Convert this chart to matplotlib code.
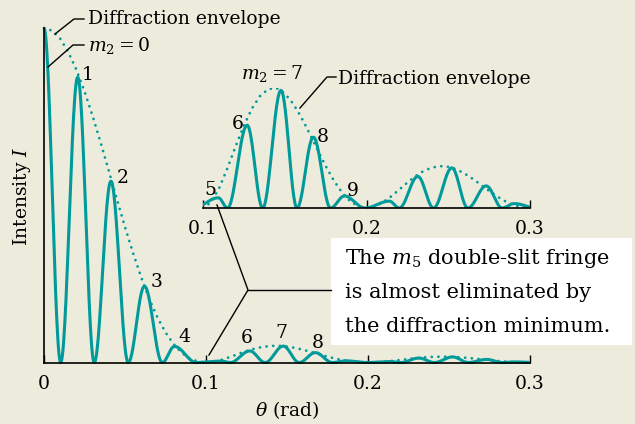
import numpy as np
import matplotlib
matplotlib.use("Agg")
import matplotlib.pyplot as plt
from matplotlib.lines import Line2D

# colours
BG = '#ECEBDC'
TEAL = '#009A9A'

# fringes inside the central diffraction lobe (m = 0..4), intensity relative to I(0)
main_m = [0, 1, 2, 3, 4]
main_peak_theta = [0.0, 0.0208, 0.0413, 0.0620, 0.0805]
main_peak_I = [1.0, 0.853, 0.542, 0.228, 0.048]
main_zero_theta = [0.0103, 0.0310, 0.0520, 0.0730, 0.0940]

# fringes m = 5..14, intensity in inset units (side-lobe envelope max = 1)
side_m = [5, 6, 7, 8, 9, 10, 11, 12, 13, 14]
side_peak_theta = [0.1094, 0.1270, 0.1477, 0.1675, 0.1865, 0.2140, 0.2314, 0.2522, 0.2732, 0.2903]
side_peak_I = [0.085, 0.69, 0.98, 0.59, 0.10, 0.057, 0.263, 0.334, 0.184, 0.037]
side_zero_theta = [0.0940, 0.1150, 0.1365, 0.1575, 0.1780, 0.1990, 0.2200,
                   0.2410, 0.2620, 0.2830, 0.3040]
side_scale = 0.05   # inset unit expressed in main-plot units

# diffraction envelope, read every 0.005 rad
env_center = [1.0, 0.992, 0.968, 0.928, 0.875, 0.811, 0.737, 0.657, 0.573, 0.488,
              0.405, 0.327, 0.255, 0.190, 0.135, 0.090, 0.055, 0.029, 0.012, 0.003, 0.0]
env_side = [0.0, 0.048, 0.169, 0.334, 0.515, 0.687, 0.831, 0.935, 0.991, 1.0,
            0.954, 0.872, 0.759, 0.626, 0.486, 0.351, 0.229, 0.129, 0.057, 0.014,
            0.0, 0.012, 0.047, 0.096, 0.153, 0.212, 0.266, 0.309, 0.337, 0.349,
            0.343, 0.322, 0.287, 0.243, 0.193, 0.142, 0.095, 0.055, 0.024, 0.006, 0.0]
env_step = 0.005


def lobe(a, p, b, h, n=30):
    # one bright fringe between two dark fringes a and b, peak h at p
    xs, ys = [], []
    if p > a:
        t = np.linspace(a, p, n)
        xs.append(t)
        ys.append(h * np.sin(0.5 * np.pi * (t - a) / (p - a)) ** 2)
    t = np.linspace(p, b, n)
    xs.append(t)
    ys.append(h * np.sin(0.5 * np.pi * (b - t) / (b - p)) ** 2)
    return np.concatenate(xs), np.concatenate(ys)


def build_curve(scale_side, with_main=True):
    X, Y = [], []
    if with_main:
        lefts = [0.0] + main_zero_theta[:-1]
        for a, p, b, h in zip(lefts, main_peak_theta, main_zero_theta, main_peak_I):
            x, y = lobe(a, p, b, h)
            X.append(x); Y.append(y)
    for i in range(len(side_m)):
        x, y = lobe(side_zero_theta[i], side_peak_theta[i], side_zero_theta[i + 1],
                    side_peak_I[i] * scale_side)
        X.append(x); Y.append(y)
    X, Y = np.concatenate(X), np.concatenate(Y)
    keep = X <= 0.3
    return X[keep], Y[keep]


W, H = 635, 424


def px(x, y):
    return x / W, 1 - y / H


plt.rcParams['font.family'] = ['DejaVu Serif']
plt.rcParams['mathtext.fontset'] = 'dejavuserif'

fig = plt.figure(figsize=(6.35, 4.24), dpi=100, facecolor=BG)

# ---- main axes
ax = fig.add_axes([44 / W, 1 - 362.5 / H, (530 - 44) / W, (362.5 - 28) / H])
ax.set_facecolor('none')
x, y = build_curve(side_scale)
ax.plot(x, y, color=TEAL, lw=2.2, solid_capstyle='butt', clip_on=False)
env_theta_c = np.arange(len(env_center)) * env_step
env_theta_s = 0.1 + np.arange(len(env_side)) * env_step
ax.plot(np.concatenate([env_theta_c, env_theta_s]),
        np.concatenate([env_center, np.array(env_side) * side_scale]),
        color=TEAL, lw=2.0, linestyle=(0, (0.01, 2.4)), dash_capstyle='round', clip_on=False)
ax.set_xlim(0, 0.3)
ax.set_ylim(0, 1.0)
for s in ['top', 'right']:
    ax.spines[s].set_visible(False)
for s in ['left', 'bottom']:
    ax.spines[s].set_linewidth(1.2)
ax.set_xticks([0, 0.1, 0.2, 0.3])
ax.set_xticklabels(['0', '0.1', '0.2', '0.3'])
ax.set_yticks([])
ax.tick_params(axis='x', direction='in', length=6, width=1.0, pad=9, labelsize=13.5)

# ---- inset
axi = fig.add_axes([203 / W, 1 - 208 / H, (530 - 203) / W, 120 / H])
axi.set_facecolor('none')
xi, yi = build_curve(1.0, with_main=False)
axi.plot(xi, yi, color=TEAL, lw=2.2)
axi.plot(env_theta_s, env_side, color=TEAL, lw=2.0, linestyle=(0, (0.01, 2.4)),
         dash_capstyle='round')
axi.set_xlim(0.1, 0.3)
axi.set_ylim(0, 1.0)
for s in ['top', 'right', 'left']:
    axi.spines[s].set_visible(False)
axi.spines['bottom'].set_linewidth(1.2)
axi.set_xticks([0.1, 0.2, 0.3])
axi.set_xticklabels(['0.1', '0.2', '0.3'])
axi.set_yticks([])
axi.tick_params(axis='x', direction='in', length=6, width=1.0, pad=9, labelsize=13.5)

# ---- labels
fs = 13.5
def label(x, y, s, **kw):
    kw.setdefault('fontsize', fs)
    kw.setdefault('ha', 'center')
    kw.setdefault('va', 'center')
    fig.text(*px(x, y), s, **kw)

label(88, 19, 'Diffraction envelope', ha='left')
label(88, 46, '$m_2 = 0$', ha='left')
label(88, 75, '1')
label(123, 178, '2')
label(157, 282, '3')
label(184, 337, '4')
label(247, 338, '6')
label(281, 333, '7')
label(318, 343, '8')
label(272, 73, '$m_2 = 7$')
label(338, 79, 'Diffraction envelope', ha='left')
label(238, 124, '6')
label(323, 137, '8')
label(353, 191, '9')
label(210, 190, '5')
label(287, 410, r'$\theta$ (rad)')
label(22, 196, 'Intensity $I$', rotation=90)

# ---- leader lines
def leader(pts):
    xs = [p[0] / W for p in pts]
    ys = [1 - p[1] / H for p in pts]
    fig.add_artist(Line2D(xs, ys, color='black', lw=1.0, transform=fig.transFigure))

leader([(84, 19), (74, 19), (55, 34)])
leader([(84, 45), (73, 45), (48, 67)])
leader([(336, 77), (327, 77), (300, 108)])
leader([(217, 205), (248, 290), (209, 355)])
leader([(248, 290), (331, 290)])

# ---- white note box
box = plt.Rectangle(px(331, 345), (632 - 331) / W, (345 - 238) / H,
                    transform=fig.transFigure, facecolor='white', edgecolor='none')
fig.add_artist(box)
label(345, 258, 'The $m_5$ double-slit fringe', ha='left', fontsize=15)
label(345, 292, 'is almost eliminated by', ha='left', fontsize=15)
label(345, 326, 'the diffraction minimum.', ha='left', fontsize=15)

fig.savefig('out.png', dpi=100, facecolor=BG)
